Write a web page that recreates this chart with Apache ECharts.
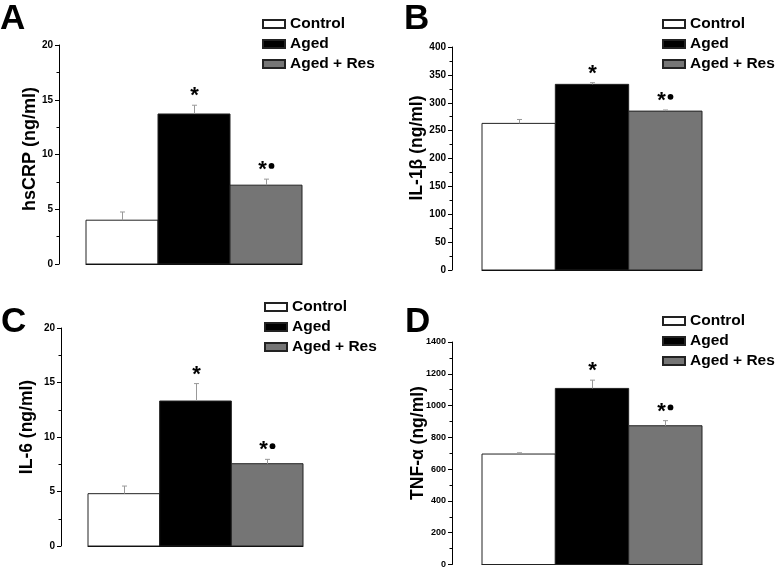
<!DOCTYPE html>
<html>
<head>
<meta charset="utf-8">
<script src="https://cdn.jsdelivr.net/npm/echarts@6/dist/echarts.min.js"></script>
<style>
html,body{margin:0;padding:0;background:#fff;}
#chart{width:778px;height:569px;}
</style>
</head>
<body>
<div id="chart"></div>
<script>
// ---- data ----
const categories = ['Control', 'Aged', 'Aged + Res'];
const hsCRPMean = [4.0, 13.7, 7.2];
const hsCRPSem  = [0.75, 0.8, 0.55];
const il1bMean  = [263, 333, 285];
const il1bSem   = [7, 3, 2];
const il6Mean   = [4.8, 13.3, 7.55];
const il6Sem    = [0.7, 1.6, 0.4];
const tnfMean   = [695, 1108, 873];
const tnfSem    = [8, 52, 32];
const notes     = ['', '*', '*\u25CF'];
const panelLetters = ['A', 'B', 'C', 'D'];
const yNames = ['hsCRP (ng/ml)', 'IL-1\u03B2 (ng/ml)', 'IL-6 (ng/ml)', 'TNF-\u03B1 (ng/ml)'];
const yMax = [20, 400, 20, 1400];
const yInterval = [5, 50, 5, 200];

const FONT = '"Liberation Sans", Arial, Helvetica, sans-serif';
const colors = ['#ffffff', '#000000', '#757575'];
const panels = [
  {mean: hsCRPMean, sem: hsCRPSem, grid: {left: 86, top: 45, width: 216, height: 219}, offset: 27, lab: 10,
   legend: {left: 262, top: 16}, letter: {x: 0, y: 19}, name: {x: 30, y: 149, size: 18}},
  {mean: il1bMean, sem: il1bSem, grid: {left: 482, top: 47, width: 220, height: 223}, offset: 30, lab: 10,
   legend: {left: 662, top: 16}, letter: {x: 404, y: 19}, name: {x: 417, y: 148, size: 17.5}},
  {mean: il6Mean, sem: il6Sem, grid: {left: 88, top: 328, width: 215, height: 218}, offset: 27, lab: 10,
   legend: {left: 264, top: 299}, letter: {x: 1, y: 322}, name: {x: 27, y: 427, size: 17.5}},
  {mean: tnfMean, sem: tnfSem, grid: {left: 482, top: 342, width: 220, height: 223}, offset: 30, lab: 9,
   legend: {left: 662, top: 313}, letter: {x: 405, y: 322}, name: {x: 418, y: 443, size: 17.5}}
];

function barRender(color) {
  return function (params, api) {
    const j = api.value(0), m = api.value(1);
    const top = api.coord([j, m]);
    const base = api.coord([j, 0]);
    const w = api.size([1, 0])[0];
    return {
      type: 'rect',
      shape: {x: top[0] - w / 2, y: top[1], width: w, height: base[1] - top[1]},
      style: {fill: color, stroke: '#222', lineWidth: 1}
    };
  };
}

const grid = [], xAxis = [], yAxis = [], legend = [], series = [], graphic = [];
panels.forEach((p, i) => {
  grid.push(Object.assign({}, p.grid));
  xAxis.push({
    type: 'category', gridIndex: i, data: categories,
    axisLine: {show: true, lineStyle: {color: '#000', width: 1}},
    axisTick: {show: false}, axisLabel: {show: false}, splitLine: {show: false}
  });
  yAxis.push({
    type: 'value', gridIndex: i, min: 0, max: yMax[i], interval: yInterval[i], offset: p.offset,
    axisLine: {show: true, lineStyle: {color: '#000', width: 1}},
    axisTick: {show: true, length: 4, lineStyle: {color: '#000', width: 1}},
    minorTick: {show: true, splitNumber: 2, length: 2.5, lineStyle: {color: '#000', width: 1}},
    splitLine: {show: false}, minorSplitLine: {show: false},
    axisLabel: {fontFamily: FONT, fontWeight: 'bold', fontSize: p.lab, color: '#000', margin: 6,
      formatter: function (v) { return String(v); }}
  });
  legend.push({
    left: p.legend.left, top: p.legend.top, orient: 'vertical', icon: 'rect',
    itemWidth: 22, itemHeight: 8, itemGap: 4, padding: 0, selectedMode: false,
    data: categories,
    textStyle: {fontFamily: FONT, fontWeight: 'bold', fontSize: 15.5, color: '#000', lineHeight: 16}
  });
  categories.forEach((c, k) => {
    series.push({
      type: 'custom', name: c, xAxisIndex: i, yAxisIndex: i, silent: true, z: 2,
      encode: {x: 0, y: 1},
      data: [[k, p.mean[k]]],
      itemStyle: {color: colors[k], borderColor: '#222', borderWidth: 1},
      renderItem: barRender(colors[k])
    });
  });
  series.push({
    type: 'custom', xAxisIndex: i, yAxisIndex: i, silent: true, z: 5,
    encode: {x: 0, y: 1},
    data: categories.map((_, j) => [j, p.mean[j], p.sem[j]]),
    renderItem: function (params, api) {
      const j = api.value(0), m = api.value(1), e = api.value(2);
      const p0 = api.coord([j, m]);
      const p1 = api.coord([j, m + e]);
      const cx = Math.round(p0[0]) + 0.5;
      const children = [
        {type: 'line', shape: {x1: cx, y1: p0[1], x2: cx, y2: p1[1]}, style: {stroke: '#999', lineWidth: 1}},
        {type: 'line', shape: {x1: cx - 2.5, y1: p1[1], x2: cx + 2.5, y2: p1[1]}, style: {stroke: '#999', lineWidth: 1}}
      ];
      const note = notes[params.dataIndex];
      const ty = p1[1] - 14;
      if (note.indexOf('*') >= 0) {
        const hasDot = note.length > 1;
        children.push({
          type: 'text', x: cx - (hasDot ? 4 : 0), y: ty + 5,
          style: {text: '*', fontFamily: FONT, fontWeight: 'bold', fontSize: 22, fill: '#000', align: 'center', verticalAlign: 'middle'}
        });
        if (hasDot) {
          children.push({type: 'circle', shape: {cx: cx + 5, cy: ty + 0.8, r: 2.9}, style: {fill: '#000'}});
        }
      }
      return {type: 'group', children: children};
    }
  });
  graphic.push({
    type: 'text', x: p.letter.x, y: p.letter.y,
    style: {text: panelLetters[i], fontFamily: FONT, fontWeight: 'bold', fontSize: 35, fill: '#000', align: 'left', verticalAlign: 'middle'}
  });
  graphic.push({
    type: 'text', x: p.name.x, y: p.name.y, rotation: Math.PI / 2,
    style: {text: yNames[i], fontFamily: FONT, fontWeight: 'bold', fontSize: p.name.size, fill: '#000', align: 'center', verticalAlign: 'middle'}
  });
});

const chart = echarts.init(document.getElementById('chart'), null, {renderer: 'canvas'});
chart.setOption({
  animation: false,
  backgroundColor: '#fff',
  grid: grid, xAxis: xAxis, yAxis: yAxis, legend: legend, series: series, graphic: graphic
});
</script>
</body>
</html>
